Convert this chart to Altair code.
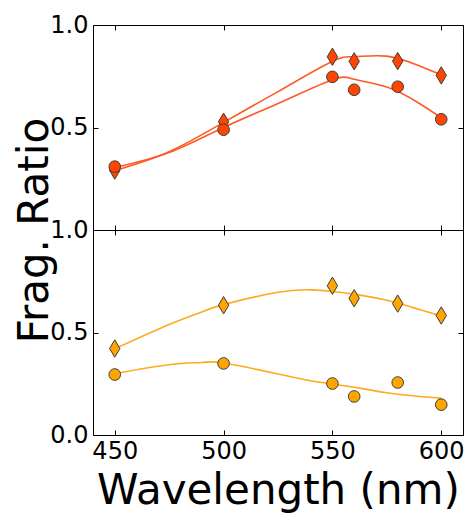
import altair as alt
import pandas as pd

# ---- data ----
wavelength = [450, 500, 550, 560, 580, 600]
top_diamond = [0.29, 0.528, 0.845, 0.823, 0.824, 0.754]
top_circle = [0.309, 0.489, 0.747, 0.684, 0.699, 0.540]
bot_diamond = [0.422, 0.633, 0.728, 0.667, 0.641, 0.583]
bot_circle = [0.295, 0.349, 0.251, 0.188, 0.256, 0.148]

# fitted curves
fit_top_x = [450, 475, 500, 525, 550, 560, 575, 590, 600]
fit_top_diamond = [0.29, 0.382, 0.525, 0.675, 0.823, 0.845, 0.848, 0.80, 0.757]
fit_top_circle = [0.305, 0.378, 0.50, 0.617, 0.733, 0.735, 0.697, 0.617, 0.547]
fit_bot_x = [450, 475, 490, 500, 525, 540, 550, 560, 575, 590, 600]
fit_bot_diamond = [0.42, 0.539, 0.60, 0.636, 0.696, 0.708, 0.70, 0.687, 0.657, 0.612, 0.58]
fit_bot_circle = [0.30, 0.343, 0.354, 0.351, 0.298, 0.265, 0.249, 0.233, 0.206, 0.188, 0.18]

x_ticks = [450, 500, 550, 600]
y_ticks = [0.0, 0.5, 1.0]
top_y_labels = [0.5, 1.0]

TOP_MARK = "#FF4500"
TOP_LINE = "#FF5A26"
BOT_MARK = "#FFA500"
BOT_LINE = "#FFAA1E"
EDGE = "#3c3c3c"
FONT = "DejaVu Sans"
W, H = 370, 205

DIAMOND = "M0,-1L0.6,0L0,1L-0.6,0Z"


def pts(values):
    return pd.DataFrame({"wl": wavelength, "v": values})


def fit(xs, d, c):
    return pd.DataFrame({
        "wl": xs + xs,
        "v": d + c,
        "series": ["diamond"] * len(xs) + ["circle"] * len(xs),
    })


def tick_axis(orient, offset, values):
    return alt.Axis(orient=orient, offset=offset, values=values, labels=False,
                    domain=False, grid=False, ticks=True, tickSize=5,
                    tickColor="black", tickWidth=1, title=None)


def panel(diam, circ, fitdf, mark_color, line_color, bottom):
    xs = alt.Scale(domain=[440, 610], nice=False, zero=False)
    ys = alt.Scale(domain=[0, 1], nice=False, zero=False)

    if bottom:
        x_main = alt.Axis(orient="bottom", values=x_ticks, ticks=False, domain=False,
                          grid=False, labelFontSize=24, labelFont=FONT,
                          labelColor="black", labelPadding=23,
                          labelBaseline="alphabetic", labelFlush=False,
                          title="Wavelength (nm)", titleFont=FONT,
                          titleFontSize=42, titleFontWeight="normal",
                          titleColor="black", titleBaseline="alphabetic",
                          titleY=68)
        y_main = alt.Axis(orient="left", values=y_ticks, ticks=False, domain=False,
                          grid=False, labelFontSize=24, labelFont=FONT,
                          labelColor="black", labelPadding=5, format=".1f",
                          labelFlush=False, title=None)
    else:
        x_main = alt.Axis(orient="bottom", values=x_ticks, ticks=False, labels=False,
                          domain=False, grid=False, title=None)
        y_main = alt.Axis(orient="left", values=top_y_labels, ticks=False, domain=False,
                          grid=False, labelFontSize=24, labelFont=FONT,
                          labelColor="black", labelPadding=5, format=".1f",
                          labelFlush=False,
                          title="Frag. Ratio", titleFont=FONT, titleFontSize=42,
                          titleFontWeight="normal", titleColor="black",
                          titleAngle=270, titleBaseline="alphabetic",
                          titleAlign="center", titleX=-46, titleY=H)

    lines = alt.Chart(fitdf).mark_line(
        color=line_color, strokeWidth=1.6, interpolate="natural"
    ).encode(
        x=alt.X("wl:Q", scale=xs, axis=x_main),
        y=alt.Y("v:Q", scale=ys, axis=y_main),
        detail="series:N",
    )
    diamonds = alt.Chart(diam).mark_point(
        shape=DIAMOND, filled=True, fill=mark_color, stroke=EDGE,
        strokeWidth=1, size=300, opacity=1
    ).encode(
        x=alt.X("wl:Q", scale=xs, axis=tick_axis("top", -H, x_ticks)),
        y=alt.Y("v:Q", scale=ys, axis=tick_axis("right", -W, y_ticks)),
    )
    circles = alt.Chart(circ).mark_point(
        shape="circle", filled=True, fill=mark_color, stroke=EDGE,
        strokeWidth=1, size=135, opacity=1
    ).encode(
        x=alt.X("wl:Q", scale=xs, axis=tick_axis("bottom", -H, x_ticks)),
        y=alt.Y("v:Q", scale=ys, axis=tick_axis("left", -W, y_ticks)),
    )
    return alt.layer(lines, diamonds, circles).properties(width=W, height=H)


top = panel(pts(top_diamond), pts(top_circle),
            fit(fit_top_x, fit_top_diamond, fit_top_circle),
            TOP_MARK, TOP_LINE, bottom=False)
bot = panel(pts(bot_diamond), pts(bot_circle),
            fit(fit_bot_x, fit_bot_diamond, fit_bot_circle),
            BOT_MARK, BOT_LINE, bottom=True)

# fixed canvas of 458 x 505 (fits the 474 x 521 window with its 8px margin);
# with autosize none the svg is (width + padding) wide and (padding) high
chart = alt.vconcat(top, bot, spacing=0, bounds="flush").properties(
    autosize=alt.AutoSizeParams(type="none"),
    padding={"left": 85, "top": 17, "right": 3, "bottom": 488},
    background="white",
).configure_view(stroke="black", strokeWidth=1)

chart.save("out.html", embed_options={"renderer": "svg", "actions": False})
